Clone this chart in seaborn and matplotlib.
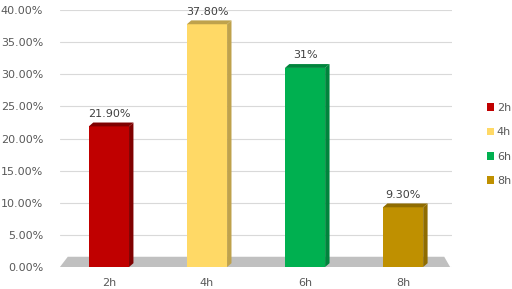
import matplotlib
matplotlib.use("Agg")
import matplotlib.pyplot as plt
import seaborn as sns
import pandas as pd
import numpy as np
from matplotlib.patches import Polygon, Rectangle, Patch
from matplotlib.ticker import FuncFormatter

categories = ["2h", "4h", "6h", "8h"]
values = [0.219, 0.378, 0.31, 0.093]
value_labels = ["21.90%", "37.80%", "31%", "9.30%"]
colors = ["#C00000", "#FFD966", "#00B050", "#BF9000"]
dark_colors = ["#7F0000", "#BFA24C", "#00843C", "#8F6C00"]

sns.set_theme(style="white")
plt.rcParams["font.family"] = ["DejaVu Sans"]

df = pd.DataFrame({"time": categories, "value": values})

fig = plt.figure(figsize=(5.12, 2.89), dpi=100)
ax = fig.add_axes([0.117, 0.076, 0.766, 0.889])

sns.barplot(data=df, x="time", y="value", hue="time", palette=colors,
            width=0.41, legend=False, ax=ax, zorder=3, saturation=1,
            linewidth=0, edgecolor="none")
bars = [p for p in ax.patches if isinstance(p, Rectangle)]

# floor
ax.add_patch(Polygon([(-0.5, 0), (3.48, 0), (3.42, 0.016), (-0.42, 0.016)],
                     closed=True, facecolor="#C0C0C0", edgecolor="none", zorder=1))

dx, dy = 0.045, 0.006
for i, p in enumerate(bars):
    x0 = p.get_x(); w = p.get_width(); h = p.get_height()
    side = Polygon([(x0 + w, 0), (x0 + w + dx, dy), (x0 + w + dx, h + dy), (x0 + w, h)],
                   closed=True, facecolor=dark_colors[i], edgecolor="none", zorder=2.9)
    top = Polygon([(x0, h), (x0 + dx, h + dy), (x0 + w + dx, h + dy), (x0 + w, h)],
                  closed=True, facecolor=dark_colors[i], edgecolor="none", zorder=3.1)
    ax.add_patch(side); ax.add_patch(top)
    ax.text(x0 + w / 2, h + 0.012, value_labels[i], ha="center", va="bottom",
            fontsize=8, color="#404040", zorder=5)

ax.set_xlim(-0.5, 3.5)
ax.set_ylim(0, 0.40)
ax.set_yticks(np.arange(0, 0.41, 0.05))
ax.yaxis.set_major_formatter(FuncFormatter(lambda v, _: f"{v*100:.2f}%"))
ax.grid(axis="y", color="#D9D9D9", linewidth=0.8, zorder=0)
ax.set_axisbelow(True)
for s in ax.spines.values():
    s.set_visible(False)
ax.tick_params(axis="y", labelsize=8, labelcolor="#595959", length=0, pad=12)
ax.tick_params(axis="x", labelsize=8, labelcolor="#595959", length=0, pad=8)
ax.set_xlabel("")
ax.set_ylabel("")

handles = [Patch(facecolor=c, edgecolor="none") for c in colors]
leg = fig.legend(handles, categories, loc="center left", bbox_to_anchor=(0.951, 0.50),
                 frameon=False, fontsize=8, handlelength=0.6, handleheight=0.7,
                 handletextpad=0.3, labelspacing=1.3, borderaxespad=0, borderpad=0)
for t in leg.get_texts():
    t.set_color("#595959")

fig.savefig("out.png", dpi=100)
